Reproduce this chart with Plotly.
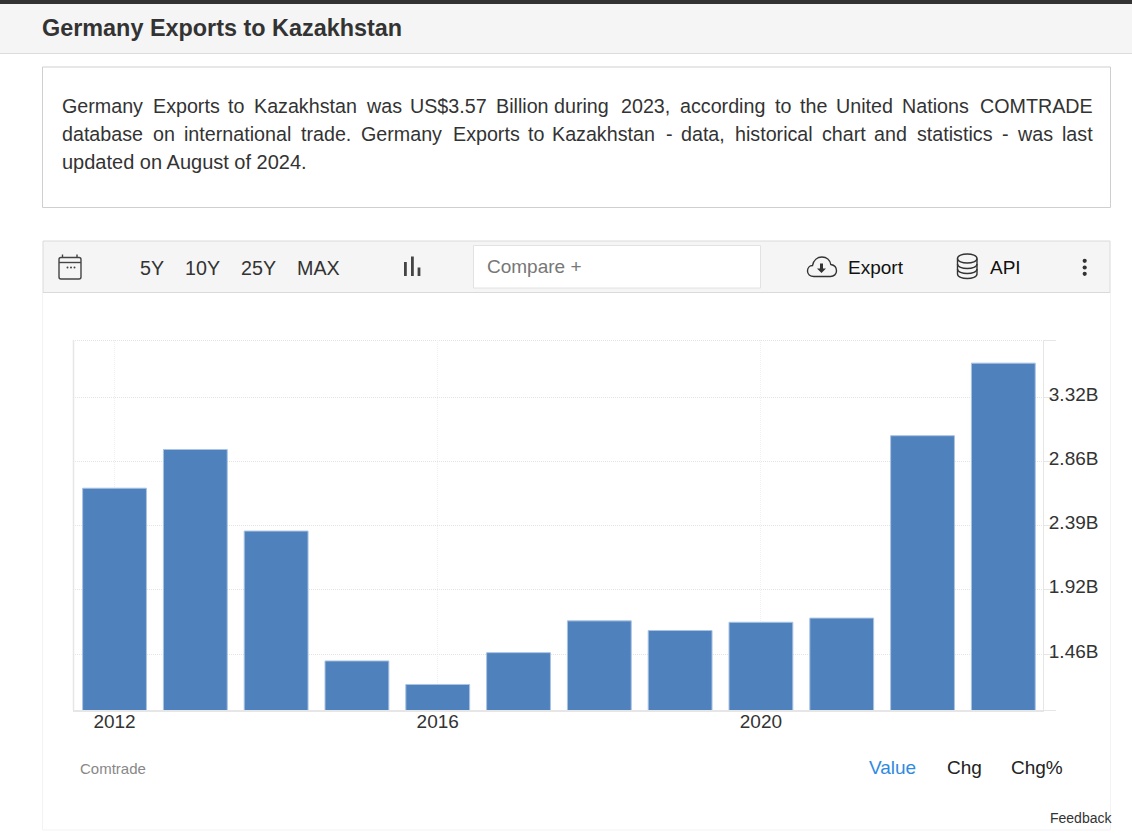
import re

import plotly.graph_objects as go

W, H = 1132, 838

years = [2012, 2013, 2014, 2015, 2016, 2017, 2018, 2019, 2020, 2021, 2022, 2023]
exports_bn = [2.66, 2.94, 2.35, 1.41, 1.24, 1.47, 1.70, 1.63, 1.69, 1.72, 3.04, 3.565]
x_ticks = [2012, 2016, 2020]
y_ticks = [1.46, 1.925, 2.39, 2.855, 3.32]
y_labels = ["1.46B", "1.92B", "2.39B", "2.86B", "3.32B"]

# justified paragraph: the browser spaced these words, so each has its own left edge
line_1 = [("Germany", 62), ("Exports", 152.6), ("to", 228), ("Kazakhstan", 253.7), ("was", 366),
          ("US$3.57", 410), ("Billion", 496), ("during", 554), ("2023,", 621.4), ("according", 680),
          ("to", 774.5), ("the", 800), ("United", 836.4), ("Nations", 902.3), ("COMTRADE", 979.5)]
line_2 = [("database", 62), ("on", 152.6), ("international", 183.7), ("trade.", 301), ("Germany", 360.5),
          ("Exports", 453), ("to", 528), ("Kazakhstan", 552), ("-", 666), ("data,", 681), ("historical", 734.6),
          ("chart", 822), ("and", 874), ("statistics", 916.5), ("-", 1002), ("was", 1017), ("last", 1062)]
line_3 = [("updated on August of 2024.", 62)]

FONT = "Liberation Sans"
shapes = []
annotations = []


def px_x(x):
    return x / W


def px_y(y):
    return 1 - y / H


def rect(x0, y0, x1, y1, fill=None, line=None, width=1, layer="below"):
    shapes.append(dict(type="rect", xref="paper", yref="paper", layer=layer,
                       x0=px_x(x0), y0=px_y(y0), x1=px_x(x1), y1=px_y(y1),
                       fillcolor=fill, line=dict(color=line, width=width if line else 0)))


def hline(x0, x1, y, color, width=1, dash="solid"):
    shapes.append(dict(type="line", xref="paper", yref="paper", layer="below",
                       x0=px_x(x0), y0=px_y(y), x1=px_x(x1), y1=px_y(y),
                       line=dict(color=color, width=width, dash=dash)))


def vline(x, y0, y1, color, width=1):
    shapes.append(dict(type="line", xref="paper", yref="paper", layer="below",
                       x0=px_x(x), y0=px_y(y0), x1=px_x(x), y1=px_y(y1),
                       line=dict(color=color, width=width)))


def icon(path, fill=None, line="#444444", width=1.4):
    # path is written in page pixels, x y pairs
    numbers = iter(range(10000))

    def conv(m):
        v = float(m.group(0))
        return f"{px_x(v):.5f}" if next(numbers) % 2 == 0 else f"{px_y(v):.5f}"

    shapes.append(dict(type="path", xref="paper", yref="paper", layer="above",
                       path=re.sub(r"\d+\.?\d*", conv, path), fillcolor=fill,
                       line=dict(color=line, width=width if line else 0)))


def dot(x, y, r, color):
    shapes.append(dict(type="circle", xref="paper", yref="paper", layer="above",
                       x0=px_x(x - r), y0=px_y(y + r), x1=px_x(x + r), y1=px_y(y - r),
                       fillcolor=color, line=dict(width=0)))


def label(text, x, y, size=19, color="#333333", bold=False):
    annotations.append(dict(text=f"<b>{text}</b>" if bold else text, xref="paper", yref="paper",
                            x=px_x(x - 1), y=px_y(y), xanchor="left", yanchor="middle", showarrow=False,
                            borderpad=0, font=dict(family=FONT, size=size, color=color)))


# page furniture
rect(0, 0, W, 53, fill="#f5f5f5")
hline(0, W, 53.5, "#dcdcdc")
rect(0, 0, W, 4, fill="#333333")
label("Germany Exports to Kazakhstan", 42, 28, size=23.4, bold=True)

rect(42.5, 67, 1110.5, 207.5, fill="#ffffff", line="#cfcfcf")
for row, words in zip([106, 134], [line_1, line_2]):
    for word, left in words:
        label(word, left, row, size=19.7)
for word, left in line_3:
    label(word, left, 162, size=20)

rect(42.5, 292.5, 1110.5, 830, line="#f3f3f3")
rect(43, 241, 1110, 292.5, fill="#f5f5f5", line="#dadada")
rect(473.5, 245.5, 760.5, 288, fill="#ffffff", line="#e2e2e2")

# toolbar
for text, left in [("5Y", 140), ("10Y", 185), ("25Y", 241), ("MAX", 297)]:
    label(text, left, 268, size=19.7)
label("Compare +", 487, 266, color="#777777")
label("Export", 848, 267, color="#111111")
label("API", 990, 267, color="#111111")

# calendar
icon("M 61 257.5 L 79 257.5 Q 81 257.5 81 259.5 L 81 277 Q 81 279 79 279 L 61 279 Q 59 279 59 277 "
     "L 59 259.5 Q 59 257.5 61 257.5 Z")
icon("M 59 262.5 L 81 262.5")
icon("M 62.5 254.5 L 62.5 257.5 M 77 254.5 L 77 257.5")
for left in [67.5, 71, 74.5]:
    dot(left, 267.5, 1, "#444444")

# bars
rect(404, 262, 406.8, 276, fill="#444444", layer="above")
rect(411, 256.5, 413.8, 276, fill="#444444", layer="above")
rect(417.6, 267.5, 420.4, 276, fill="#444444", layer="above")

# cloud
icon("M 814 276.5 C 810 276.5 807.5 274 807.5 271 C 807.5 268 809.5 265.5 812.5 265.5 "
     "C 813.5 260 817.5 257 822 257 C 826.5 257 830 260 830.8 264.5 C 834 265 836.5 267.5 836.5 271 "
     "C 836.5 274 834 276.5 830.5 276.5 Z", line="#333333")
icon("M 820 263.5 L 823 263.5 L 823 268.5 L 826 268.5 L 821.5 273 L 817 268.5 L 820 268.5 Z",
     fill="#333333", line=None)

# database
icon("M 957.5 258.5 C 957.5 252.5 977 252.5 977 258.5 C 977 264.5 957.5 264.5 957.5 258.5 Z", line="#333333")
icon("M 957.5 258.5 L 957.5 274 C 957.5 280 977 280 977 274 L 977 258.5", line="#333333")
icon("M 957.5 264 C 957.5 270 977 270 977 264", line="#333333")
icon("M 957.5 269 C 957.5 275 977 275 977 269", line="#333333")

for row in [260.8, 267.5, 273.8]:
    dot(1084.7, row, 2.1, "#333333")

# chart frame lines that the axes do not draw
hline(1043, 1056, 340.5, "#e6e6e6")
hline(1043, 1056, 710.5, "#e6e6e6")
hline(73, 1043, 340.5, "#e4e4e4", dash="1px,1px")
vline(73.5, 340, 710, "#e6e6e6", width=1.5)

label("Comtrade", 80, 768, size=15, color="#888888")
label("Value", 869, 767, color="#2f8ae0")
label("Chg", 947, 767, color="#222222")
label("Chg%", 1011, 767, color="#222222")
label("Feedback", 1050, 818, size=14, color="#333333")

fig = go.Figure(
    go.Bar(x=years, y=exports_bn, width=0.79,
           marker=dict(color="#4f81bd", line=dict(color="#a9c3e2", width=1)))
)
fig.update_layout(
    width=W, height=H, margin=dict(l=0, r=0, t=0, b=0), autosize=False,
    paper_bgcolor="#ffffff", plot_bgcolor="rgba(0,0,0,0)", showlegend=False,
    font=dict(family=FONT, size=19, color="#333333"),
    shapes=shapes, annotations=annotations,
    xaxis=dict(domain=[px_x(73), px_x(1043)], range=[2011.486, 2023.491], tickmode="array",
               tickvals=x_ticks, ticktext=[str(v) for v in x_ticks], ticks="", ticklabelstandoff=-7,
               showline=True, linecolor="#e6e6e6", linewidth=1.5, showgrid=True, gridcolor="#f0f0f0",
               griddash="1px,1px", zeroline=False, tickfont=dict(size=19, color="#333333")),
    yaxis=dict(domain=[px_y(710), px_y(340)], range=[1.055, 3.7325], side="right", tickmode="array",
               tickvals=y_ticks, ticktext=y_labels, ticks="outside", ticklen=12, tickcolor="#e6e6e6",
               tickwidth=1, ticklabelstandoff=-11, ticklabelshift=-3, showline=True, linecolor="#e6e6e6",
               linewidth=1, showgrid=True, gridcolor="#e4e4e4", griddash="1px,1px", zeroline=False,
               tickfont=dict(size=19, color="#333333")),
)

fig.write_html("out.html", config=dict(displayModeBar=False),
               post_script="document.body.style.margin='0';document.body.style.overflow='hidden';")
